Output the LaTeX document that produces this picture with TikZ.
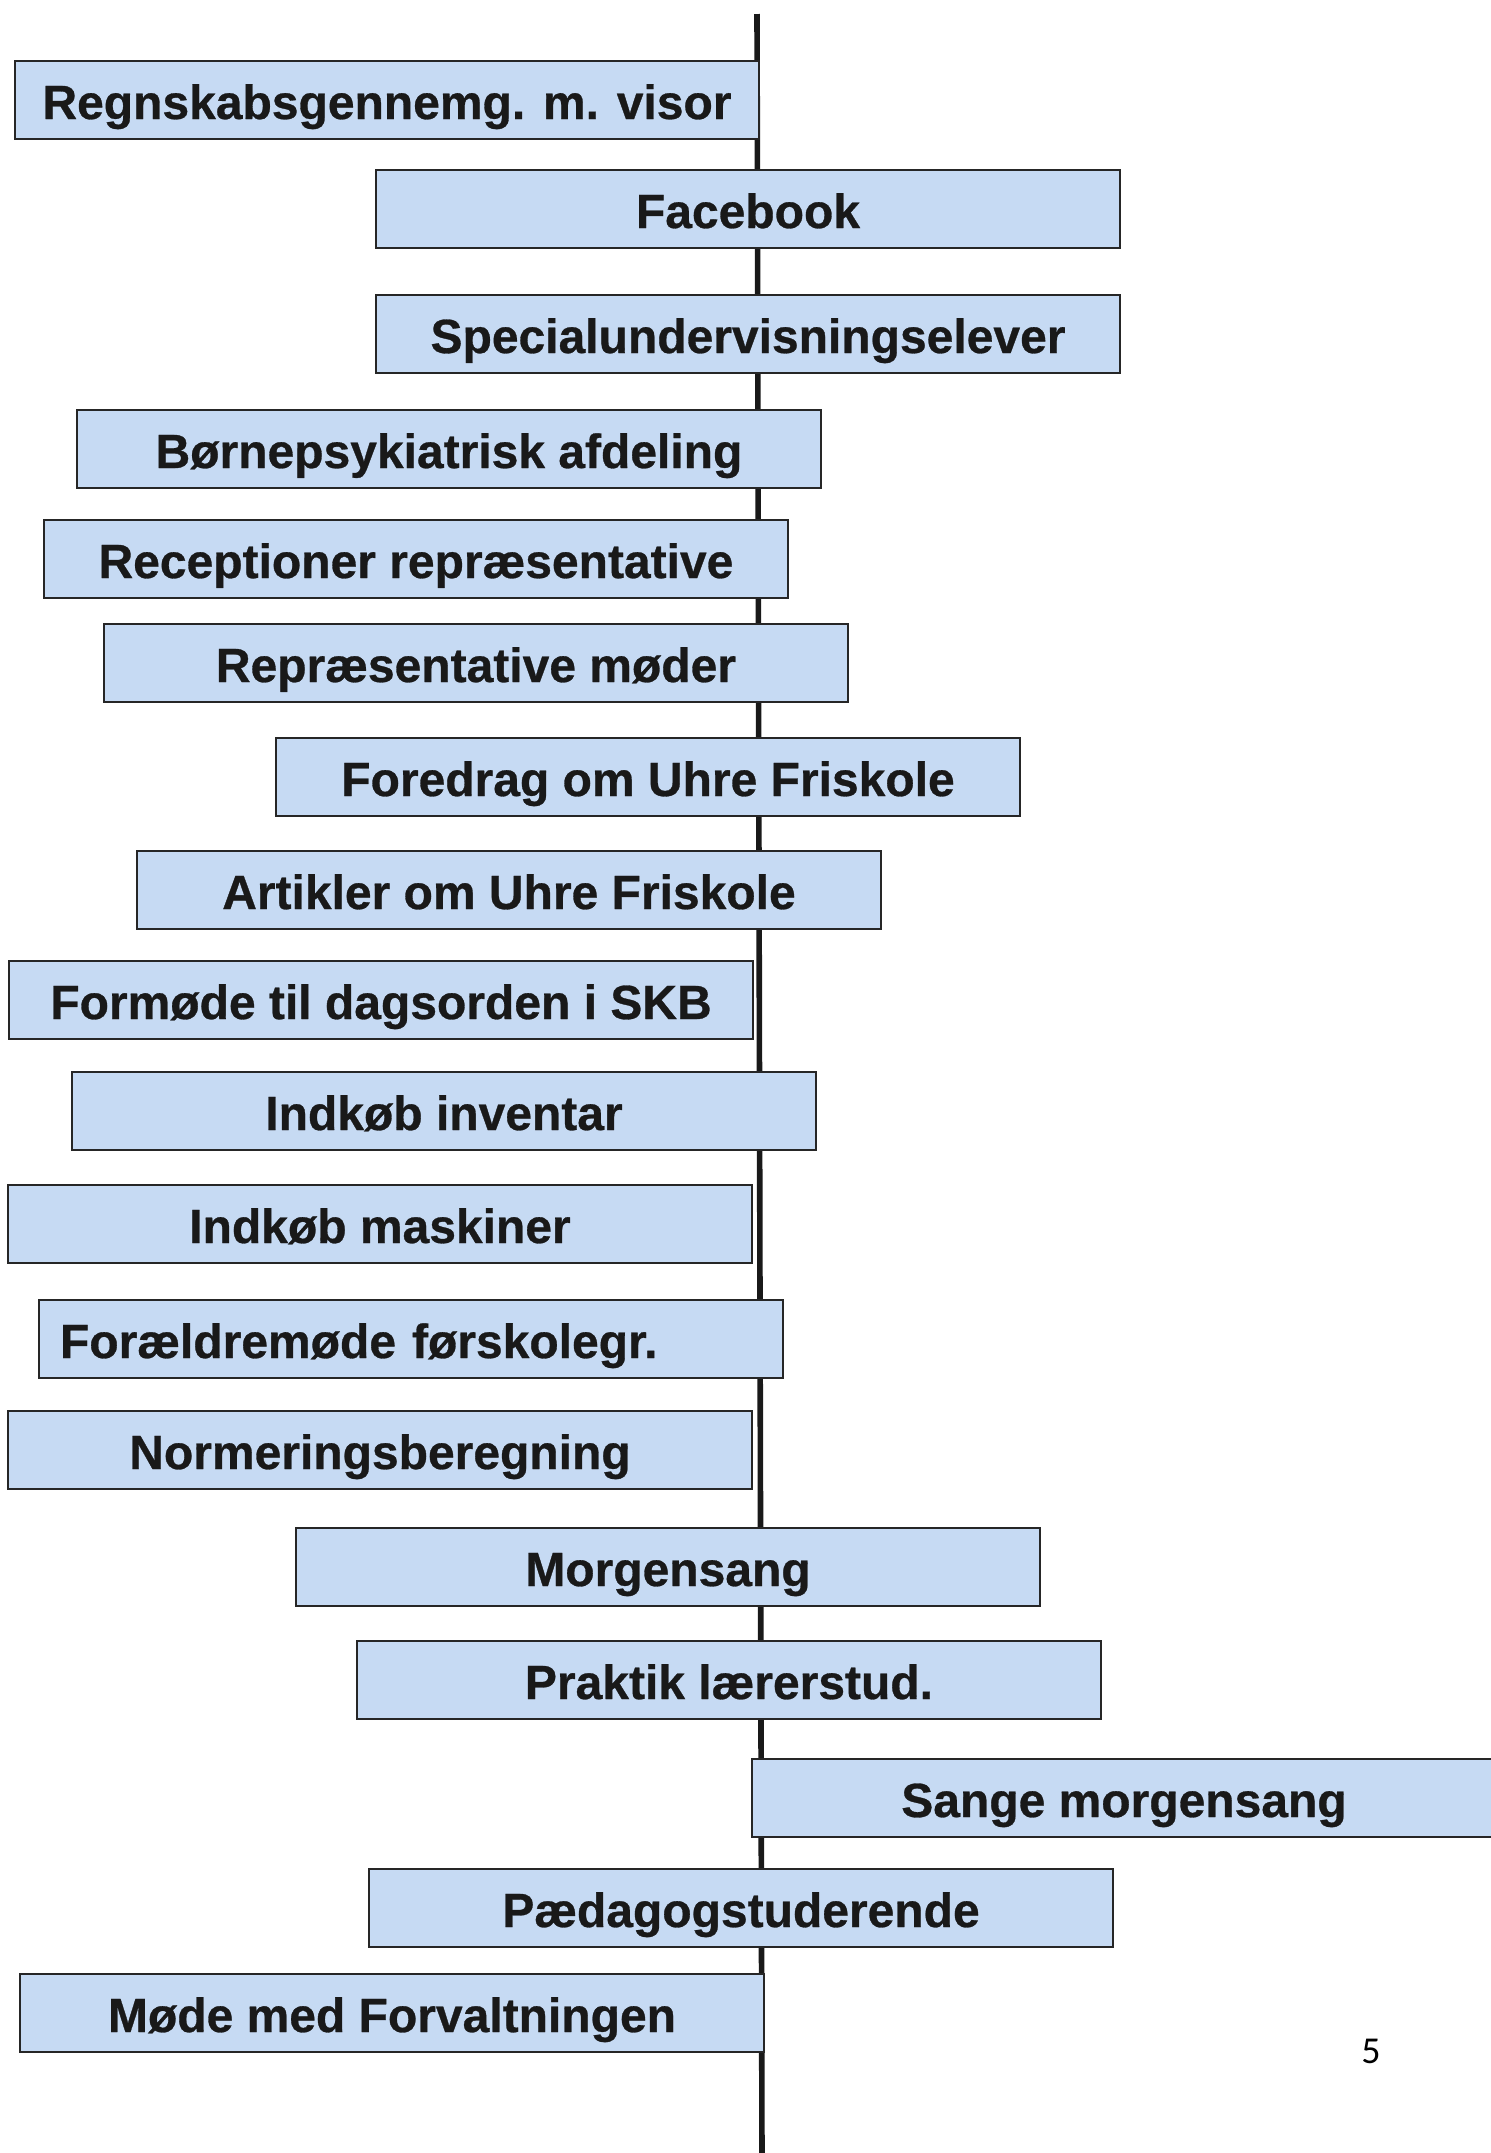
\documentclass[tikz,border=0pt]{standalone}
\usepackage{fontspec}
\setmainfont{Liberation Sans}
\newfontfamily\barfont[FakeBold=0.6]{Liberation Sans Bold}
\newfontfamily\pagefont{Carlito}
\definecolor{boxblue}{RGB}{198,218,243}
\definecolor{txtdark}{RGB}{25,25,25}
\tikzset{
  bar/.style={draw=black!85, line width=1pt, fill=boxblue, anchor=north west,
    minimum width=372pt, minimum height=39pt, inner sep=0pt,
    text height=19pt, text depth=0pt,
    text=txtdark, font=\barfont\fontsize{24}{28}\selectfont},
  leftbar/.style={bar, text width=351pt, inner xsep=10.5pt, align=left},
  axisline/.style={draw=black!90, line width=2.8pt}
}
\begin{document}
\begin{tikzpicture}[x=0.5pt,y=-0.5pt]
\useasboundingbox (0,0) rectangle (1490,2153);
\coordinate (top) at (757,14);
\coordinate (bottom) at (762,2160);
\draw[axisline] (top) -- (bottom);
\node[bar] (b1)  at (14,60)    {Regnskabsgennemg. m. visor};
\node[bar] (b2)  at (375,169)  {Facebook};
\node[bar] (b3)  at (375,294)  {Specialundervisningselever};
\node[bar] (b4)  at (76,409)   {Børnepsykiatrisk afdeling};
\node[bar] (b5)  at (43,519)   {Receptioner repræsentative};
\node[bar] (b6)  at (103,623)  {Repræsentative møder};
\node[bar] (b7)  at (275,737)  {Foredrag om Uhre Friskole};
\node[bar] (b8)  at (136,850)  {Artikler om Uhre Friskole};
\node[bar] (b9)  at (8,960)    {Formøde til dagsorden i SKB};
\node[bar] (b10) at (71,1071)  {Indkøb inventar};
\node[bar] (b11) at (7,1184)   {Indkøb maskiner};
\node[leftbar] (b12) at (38,1299) {Forældremøde førskolegr.};
\node[bar] (b13) at (7,1410)   {Normeringsberegning};
\node[bar] (b14) at (295,1527) {Morgensang};
\node[bar] (b15) at (356,1640) {Praktik lærerstud.};
\node[bar] (b16) at (751,1758) {Sange morgensang};
\node[bar] (b17) at (368,1868) {Pædagogstuderende};
\node[bar] (b18) at (19,1973)  {Møde med Forvaltningen};
\node[font=\pagefont\fontsize{19}{22}\selectfont, text=black] (pg) at (1371,2051) {5};
\end{tikzpicture}
\end{document}
